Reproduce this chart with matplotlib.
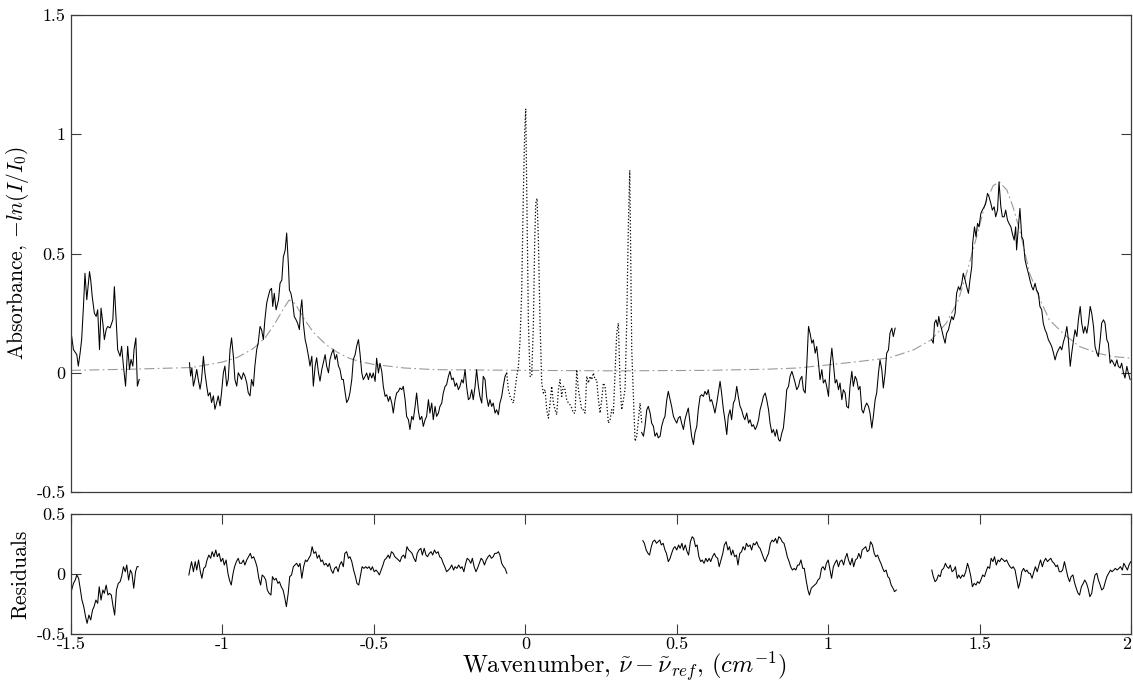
import matplotlib
matplotlib.use("Agg")
import matplotlib.pyplot as plt

# absorbance data as (wavenumber, absorbance)
abs_a = [(-1.498, 0.153), (-1.492, 0.097), (-1.481, 0.076), (-1.476, 0.028), (-1.470, 0.083), (-1.465, 0.139),
         (-1.459, 0.278), (-1.454, 0.417), (-1.448, 0.306), (-1.439, 0.424), (-1.435, 0.389), (-1.430, 0.319),
         (-1.423, 0.250), (-1.417, 0.236), (-1.412, 0.264), (-1.406, 0.097), (-1.401, 0.271), (-1.395, 0.208),
         (-1.390, 0.139), (-1.384, 0.181), (-1.379, 0.194), (-1.371, 0.188), (-1.362, 0.222), (-1.357, 0.361),
         (-1.351, 0.222), (-1.346, 0.097), (-1.338, 0.069), (-1.333, 0.111), (-1.327, 0.028), (-1.320, -0.056),
         (-1.313, 0.111), (-1.307, 0.014), (-1.302, 0.056), (-1.296, 0.028), (-1.292, 0.097), (-1.286, 0.146),
         (-1.281, -0.056), (-1.275, -0.028)]

abs_b = [(-1.109, 0.042), (-1.105, -0.014), (-1.101, 0.021), (-1.096, -0.056), (-1.091, -0.028), (-1.085, 0.014),
         (-1.080, -0.028), (-1.074, -0.069), (-1.069, -0.028), (-1.063, 0.069), (-1.058, 0.0), (-1.052, -0.056),
         (-1.047, -0.097), (-1.041, -0.083), (-1.036, -0.125), (-1.030, -0.097), (-1.025, -0.153), (-1.019, -0.125),
         (-1.014, -0.097), (-1.008, -0.139), (-1.003, -0.083), (-0.997, 0.0), (-0.992, 0.028), (-0.986, -0.056),
         (-0.981, -0.028), (-0.975, 0.097), (-0.970, 0.146), (-0.964, 0.069), (-0.959, -0.028), (-0.953, -0.056),
         (-0.948, 0.0), (-0.942, -0.014), (-0.937, -0.028), (-0.931, 0.0), (-0.926, -0.014), (-0.920, -0.042),
         (-0.915, -0.083), (-0.909, -0.097), (-0.904, -0.028), (-0.898, -0.056), (-0.893, 0.028), (-0.887, 0.097),
         (-0.882, 0.125), (-0.876, 0.194), (-0.871, 0.181), (-0.865, 0.139), (-0.860, 0.222), (-0.854, 0.292),
         (-0.849, 0.319), (-0.843, 0.347), (-0.838, 0.354), (-0.834, 0.278), (-0.829, 0.333), (-0.823, 0.264),
         (-0.815, 0.306), (-0.810, 0.375), (-0.804, 0.389), (-0.799, 0.486), (-0.793, 0.514), (-0.788, 0.586),
         (-0.782, 0.444), (-0.779, 0.347), (-0.774, 0.333), (-0.768, 0.292), (-0.763, 0.236), (-0.757, 0.222),
         (-0.752, 0.208), (-0.746, 0.181), (-0.742, 0.264), (-0.738, 0.306), (-0.733, 0.208), (-0.727, 0.139),
         (-0.722, 0.111), (-0.716, 0.069), (-0.711, 0.028), (-0.705, 0.069), (-0.700, -0.056), (-0.694, 0.028),
         (-0.689, 0.063), (-0.683, 0.0), (-0.678, -0.035), (-0.672, 0.014), (-0.667, 0.042), (-0.661, 0.076),
         (-0.656, 0.028), (-0.650, 0.0), (-0.645, 0.056), (-0.639, 0.083), (-0.634, 0.097), (-0.628, 0.056),
         (-0.623, 0.076), (-0.617, 0.028), (-0.612, 0.014), (-0.606, -0.028), (-0.601, -0.028), (-0.595, -0.083),
         (-0.590, -0.125), (-0.584, -0.111), (-0.579, -0.083), (-0.573, -0.028), (-0.568, 0.056), (-0.562, 0.076),
         (-0.557, 0.111), (-0.551, 0.139), (-0.546, 0.082), (-0.540, -0.001), (-0.535, -0.029), (-0.529, -0.015),
         (-0.524, -0.001), (-0.518, -0.029), (-0.513, -0.001), (-0.507, -0.022), (-0.502, -0.001), (-0.496, -0.036),
         (-0.491, 0.061), (-0.485, -0.001), (-0.480, 0.040), (-0.474, 0.006), (-0.469, -0.057), (-0.463, -0.099),
         (-0.458, -0.092), (-0.452, -0.120), (-0.447, -0.099), (-0.441, -0.127), (-0.436, -0.169), (-0.430, -0.113),
         (-0.425, -0.085), (-0.419, -0.078), (-0.414, -0.064), (-0.408, -0.071), (-0.403, -0.057), (-0.397, -0.113),
         (-0.392, -0.183), (-0.386, -0.197), (-0.381, -0.238), (-0.375, -0.183), (-0.370, -0.197), (-0.364, -0.141),
         (-0.359, -0.085), (-0.353, -0.162), (-0.348, -0.197), (-0.342, -0.183), (-0.337, -0.225), (-0.331, -0.197),
         (-0.326, -0.183), (-0.320, -0.113), (-0.315, -0.169), (-0.309, -0.127), (-0.304, -0.197), (-0.298, -0.141),
         (-0.293, -0.183), (-0.287, -0.169), (-0.282, -0.141), (-0.276, -0.127), (-0.271, -0.085), (-0.265, -0.057),
         (-0.260, -0.050), (-0.254, -0.015), (-0.249, 0.006), (-0.243, -0.029), (-0.238, -0.022), (-0.232, -0.057),
         (-0.227, -0.043), (-0.221, -0.071), (-0.216, -0.057), (-0.210, -0.029), (-0.205, -0.043), (-0.199, 0.013),
         (-0.194, -0.057), (-0.188, -0.113), (-0.183, -0.106), (-0.177, -0.071), (-0.172, -0.113), (-0.166, -0.057),
         (-0.161, 0.013), (-0.155, -0.057), (-0.150, -0.099), (-0.144, -0.127), (-0.139, -0.015), (-0.133, -0.029),
         (-0.128, -0.099), (-0.122, -0.141), (-0.117, -0.113), (-0.111, -0.141), (-0.106, -0.127), (-0.100, -0.169),
         (-0.095, -0.155), (-0.089, -0.176), (-0.084, -0.127), (-0.078, -0.099), (-0.073, -0.057), (-0.067, -0.015),
         (-0.0615, -0.001)]

# points left out of the fit (dotted)
abs_excl = [(-0.0615, -0.001), (-0.056, -0.071), (-0.0505, -0.099), (-0.045, -0.113), (-0.0395, -0.127),
            (-0.034, -0.071), (-0.0285, -0.015), (-0.023, 0.026), (-0.0174, 0.138), (-0.0119, 0.347),
            (-0.0064, 0.766), (-0.002, 1.017), (0.0013, 1.107), (0.0046, 0.766), (0.0101, 0.208), (0.0156, -0.015),
            (0.0211, -0.015), (0.0266, 0.208), (0.031, 0.556), (0.0343, 0.710), (0.0387, 0.731), (0.0431, 0.556),
            (0.0486, 0.208), (0.0541, -0.043), (0.0596, -0.085), (0.0651, -0.071), (0.0706, -0.155), (0.0761, -0.190),
            (0.0816, -0.127), (0.0871, -0.057), (0.0926, -0.127), (0.0981, -0.155), (0.1036, -0.176), (0.1091, -0.071),
            (0.1146, -0.029), (0.1201, -0.099), (0.1256, -0.057), (0.1311, -0.071), (0.1366, -0.113), (0.1421, -0.127),
            (0.1476, -0.134), (0.1532, -0.148), (0.1587, -0.169), (0.1642, -0.169), (0.1697, 0.013), (0.1752, -0.071),
            (0.1807, -0.113), (0.1862, -0.155), (0.1917, -0.155), (0.1972, -0.169), (0.2027, -0.015), (0.2082, -0.043),
            (0.2137, -0.015), (0.2192, -0.029), (0.2247, -0.001), (0.2302, -0.029), (0.2357, -0.029), (0.2412, -0.113),
            (0.2467, -0.169), (0.2522, -0.113), (0.2577, -0.043), (0.2632, -0.057), (0.2687, -0.127), (0.2742, -0.211),
            (0.2797, -0.197), (0.2852, -0.155), (0.2907, -0.169), (0.2962, -0.001), (0.3017, 0.166), (0.3072, 0.208),
            (0.3127, -0.043), (0.3182, -0.155), (0.3237, -0.113), (0.3292, -0.071), (0.3347, 0.208), (0.3403, 0.626),
            (0.3447, 0.849), (0.348, 0.487), (0.3513, 0.096), (0.3568, -0.099), (0.3623, -0.287), (0.3678, -0.266),
            (0.3733, -0.197), (0.3788, -0.127), (0.3843, -0.211)]

abs_c = [(0.384, -0.250), (0.390, -0.266), (0.395, -0.225), (0.401, -0.155), (0.406, -0.141), (0.412, -0.169),
         (0.417, -0.211), (0.423, -0.225), (0.428, -0.266), (0.434, -0.252), (0.439, -0.273), (0.445, -0.266),
         (0.450, -0.225), (0.456, -0.197), (0.461, -0.183), (0.467, -0.113), (0.472, -0.078), (0.478, -0.113),
         (0.483, -0.141), (0.489, -0.183), (0.494, -0.197), (0.500, -0.211), (0.505, -0.190), (0.511, -0.183),
         (0.516, -0.211), (0.522, -0.238), (0.527, -0.197), (0.533, -0.169), (0.538, -0.148), (0.544, -0.211),
         (0.549, -0.266), (0.555, -0.301), (0.560, -0.252), (0.566, -0.225), (0.571, -0.155), (0.577, -0.099),
         (0.582, -0.092), (0.588, -0.099), (0.593, -0.078), (0.599, -0.092), (0.604, -0.071), (0.610, -0.120),
         (0.615, -0.113), (0.621, -0.141), (0.626, -0.169), (0.632, -0.127), (0.637, -0.085), (0.643, -0.036),
         (0.648, -0.085), (0.654, -0.155), (0.659, -0.197), (0.665, -0.259), (0.670, -0.183), (0.676, -0.155),
         (0.681, -0.197), (0.687, -0.127), (0.692, -0.113), (0.698, -0.057), (0.703, -0.099), (0.709, -0.141),
         (0.714, -0.155), (0.720, -0.183), (0.725, -0.197), (0.731, -0.169), (0.737, -0.211), (0.742, -0.197),
         (0.748, -0.225), (0.753, -0.218), (0.759, -0.238), (0.764, -0.225), (0.770, -0.197), (0.775, -0.155),
         (0.781, -0.127), (0.786, -0.099), (0.792, -0.085), (0.797, -0.113), (0.803, -0.155), (0.808, -0.211),
         (0.814, -0.252), (0.819, -0.238), (0.825, -0.266), (0.830, -0.238), (0.836, -0.280), (0.841, -0.287),
         (0.847, -0.252), (0.852, -0.232), (0.858, -0.155), (0.863, -0.071), (0.869, -0.057), (0.874, -0.015),
         (0.880, 0.006), (0.885, -0.015), (0.891, -0.043), (0.896, -0.071), (0.902, -0.057), (0.907, -0.029),
         (0.913, -0.015), (0.918, -0.071), (0.924, -0.085), (0.929, 0.026), (0.935, 0.194), (0.940, 0.166),
         (0.946, 0.124), (0.951, 0.138), (0.957, 0.082), (0.962, 0.110), (0.968, 0.040), (0.973, -0.029),
         (0.979, 0.013), (0.984, -0.043), (0.990, -0.029), (0.995, -0.057), (1.001, -0.099), (1.006, 0.026),
         (1.012, 0.103), (1.017, 0.040), (1.023, -0.043), (1.028, -0.029), (1.034, -0.071), (1.039, -0.043),
         (1.045, -0.113), (1.050, -0.071), (1.056, -0.085), (1.061, -0.141), (1.067, -0.148), (1.072, -0.057),
         (1.078, 0.006), (1.083, -0.057), (1.089, -0.015), (1.094, -0.029), (1.100, -0.071), (1.105, -0.057),
         (1.111, -0.155), (1.116, -0.169), (1.122, -0.141), (1.127, -0.127), (1.133, -0.141), (1.138, -0.169),
         (1.144, -0.232), (1.149, -0.183), (1.155, -0.113), (1.160, -0.085), (1.166, -0.001), (1.171, 0.054),
         (1.177, 0.013), (1.182, -0.064), (1.188, -0.001), (1.193, 0.082), (1.199, 0.096), (1.204, 0.166),
         (1.210, 0.187), (1.215, 0.152), (1.221, 0.187)]

abs_d = [(1.342, 0.138), (1.347, 0.124), (1.351, 0.208), (1.356, 0.222), (1.361, 0.194), (1.365, 0.236),
         (1.369, 0.208), (1.375, 0.180), (1.380, 0.152), (1.386, 0.124), (1.391, 0.166), (1.397, 0.180),
         (1.402, 0.208), (1.408, 0.236), (1.413, 0.222), (1.419, 0.250), (1.424, 0.333), (1.430, 0.361),
         (1.435, 0.347), (1.441, 0.375), (1.446, 0.417), (1.452, 0.389), (1.457, 0.361), (1.463, 0.333),
         (1.468, 0.389), (1.474, 0.445), (1.477, 0.543), (1.483, 0.612), (1.488, 0.570), (1.493, 0.626),
         (1.498, 0.612), (1.504, 0.668), (1.509, 0.682), (1.515, 0.696), (1.520, 0.710), (1.526, 0.752),
         (1.531, 0.738), (1.537, 0.710), (1.542, 0.682), (1.548, 0.696), (1.553, 0.654), (1.559, 0.682),
         (1.564, 0.800), (1.570, 0.696), (1.575, 0.654), (1.581, 0.654), (1.586, 0.682), (1.592, 0.640),
         (1.597, 0.626), (1.603, 0.612), (1.608, 0.584), (1.614, 0.556), (1.619, 0.612), (1.622, 0.515),
         (1.628, 0.612), (1.633, 0.689), (1.639, 0.570), (1.644, 0.556), (1.650, 0.473), (1.655, 0.445),
         (1.661, 0.417), (1.666, 0.389), (1.672, 0.361), (1.677, 0.347), (1.683, 0.375), (1.688, 0.347),
         (1.694, 0.333), (1.699, 0.278), (1.705, 0.264), (1.710, 0.208), (1.716, 0.180), (1.721, 0.166),
         (1.727, 0.138), (1.733, 0.124), (1.738, 0.110), (1.744, 0.082), (1.749, 0.054), (1.755, 0.082),
         (1.760, 0.096), (1.766, 0.110), (1.771, 0.096), (1.777, 0.131), (1.782, 0.152), (1.788, 0.194),
         (1.793, 0.138), (1.799, 0.027), (1.804, 0.082), (1.810, 0.138), (1.815, 0.180), (1.821, 0.152),
         (1.826, 0.222), (1.832, 0.278), (1.837, 0.208), (1.843, 0.166), (1.848, 0.194), (1.854, 0.166),
         (1.859, 0.208), (1.865, 0.278), (1.870, 0.250), (1.876, 0.194), (1.881, 0.110), (1.887, 0.082),
         (1.892, 0.068), (1.898, 0.138), (1.903, 0.208), (1.909, 0.222), (1.914, 0.208), (1.920, 0.138),
         (1.925, 0.124), (1.931, 0.040), (1.936, 0.054), (1.942, 0.040), (1.947, 0.027), (1.953, 0.054),
         (1.958, 0.027), (1.964, 0.020), (1.969, 0.040), (1.975, -0.001), (1.980, -0.022), (1.986, 0.027),
         (1.991, -0.001), (1.997, -0.029)]

# fitted profile (dash-dot)
fit_curve = [(-1.5, 0.010), (-1.3, 0.015), (-1.1, 0.022), (-1.0, 0.045), (-0.95, 0.065), (-0.9, 0.100),
             (-0.86, 0.145), (-0.83, 0.200), (-0.80, 0.265), (-0.78, 0.305), (-0.76, 0.290), (-0.73, 0.225),
             (-0.70, 0.170), (-0.66, 0.120), (-0.62, 0.085), (-0.58, 0.060), (-0.54, 0.045), (-0.50, 0.035),
             (-0.40, 0.020), (-0.30, 0.013), (0.0, 0.010), (0.3, 0.008), (0.6, 0.010), (0.8, 0.015), (0.9, 0.020),
             (1.0, 0.033), (1.1, 0.047), (1.2, 0.062), (1.28, 0.095), (1.34, 0.138), (1.39, 0.208), (1.43, 0.305),
             (1.46, 0.431), (1.49, 0.570), (1.52, 0.715), (1.545, 0.785), (1.565, 0.800), (1.59, 0.766),
             (1.61, 0.696), (1.635, 0.584), (1.665, 0.417), (1.70, 0.305), (1.73, 0.222), (1.78, 0.160),
             (1.83, 0.110), (1.89, 0.082), (1.94, 0.068), (2.0, 0.061)]

# residuals
res_a = [(-1.498, -0.133), (-1.492, -0.078), (-1.486, -0.050), (-1.481, -0.008), (-1.475, -0.036), (-1.469, -0.133),
         (-1.464, -0.217), (-1.458, -0.272), (-1.452, -0.356), (-1.447, -0.411), (-1.441, -0.342), (-1.435, -0.383),
         (-1.429, -0.300), (-1.424, -0.272), (-1.418, -0.217), (-1.412, -0.244), (-1.407, -0.106), (-1.401, -0.217),
         (-1.395, -0.133), (-1.390, -0.161), (-1.384, -0.092), (-1.378, -0.175), (-1.373, -0.161), (-1.367, -0.175),
         (-1.361, -0.272), (-1.356, -0.342), (-1.350, -0.133), (-1.344, -0.078), (-1.338, -0.064), (-1.333, -0.022),
         (-1.327, 0.061), (-1.321, 0.019), (-1.316, 0.075), (-1.310, -0.050), (-1.304, 0.033), (-1.299, 0.006),
         (-1.293, -0.119), (-1.287, 0.019), (-1.282, 0.061), (-1.278, 0.061)]

res_b = [(-1.111, -0.008), (-1.108, 0.033), (-1.102, 0.103), (-1.096, 0.019), (-1.090, 0.103), (-1.085, 0.033),
         (-1.079, 0.117), (-1.073, 0.019), (-1.068, -0.036), (-1.062, 0.047), (-1.056, 0.061), (-1.051, 0.117),
         (-1.045, 0.158), (-1.039, 0.131), (-1.034, 0.186), (-1.028, 0.144), (-1.022, 0.200), (-1.017, 0.144),
         (-1.011, 0.172), (-1.005, 0.103), (-0.999, 0.131), (-0.994, 0.075), (-0.988, 0.117), (-0.982, 0.006),
         (-0.977, -0.050), (-0.971, -0.092), (-0.965, 0.006), (-0.960, 0.061), (-0.954, 0.103), (-0.948, 0.131),
         (-0.943, 0.089), (-0.937, 0.089), (-0.931, 0.117), (-0.926, 0.075), (-0.920, 0.117), (-0.914, 0.144),
         (-0.908, 0.172), (-0.903, 0.131), (-0.897, 0.144), (-0.891, 0.103), (-0.886, 0.061), (-0.880, -0.036),
         (-0.874, -0.092), (-0.869, -0.008), (-0.863, -0.022), (-0.857, -0.050), (-0.852, -0.133), (-0.846, -0.161),
         (-0.840, -0.175), (-0.835, -0.022), (-0.829, -0.050), (-0.823, -0.036), (-0.817, -0.078), (-0.812, -0.064),
         (-0.806, -0.106), (-0.800, -0.133), (-0.795, -0.189), (-0.789, -0.272), (-0.783, -0.161), (-0.778, -0.022),
         (-0.772, -0.008), (-0.766, 0.061), (-0.761, 0.075), (-0.755, 0.089), (-0.749, 0.061), (-0.744, 0.089),
         (-0.738, -0.036), (-0.732, 0.061), (-0.726, 0.117), (-0.721, 0.103), (-0.715, 0.131), (-0.709, 0.158),
         (-0.704, 0.228), (-0.698, 0.172), (-0.692, 0.186), (-0.687, 0.131), (-0.681, 0.158), (-0.675, 0.103),
         (-0.670, 0.117), (-0.664, 0.075), (-0.658, 0.089), (-0.652, 0.061), (-0.647, 0.089), (-0.641, 0.033),
         (-0.635, 0.006), (-0.630, 0.047), (-0.624, 0.061), (-0.618, 0.019), (-0.613, 0.075), (-0.607, 0.103),
         (-0.601, 0.061), (-0.596, 0.172), (-0.590, 0.186), (-0.584, 0.131), (-0.579, 0.144), (-0.573, 0.103),
         (-0.567, 0.033), (-0.561, -0.022), (-0.556, -0.078), (-0.550, -0.092), (-0.544, -0.008), (-0.539, 0.061),
         (-0.533, 0.047), (-0.527, 0.061), (-0.522, 0.047), (-0.516, 0.061), (-0.510, 0.033), (-0.505, 0.061),
         (-0.499, 0.019), (-0.493, 0.033), (-0.488, 0.019), (-0.482, -0.008), (-0.476, 0.033), (-0.470, 0.075),
         (-0.465, 0.117), (-0.459, 0.131), (-0.453, 0.158), (-0.448, 0.131), (-0.442, 0.186), (-0.436, 0.172),
         (-0.431, 0.144), (-0.425, 0.131), (-0.419, 0.117), (-0.414, 0.103), (-0.408, 0.144), (-0.402, 0.158),
         (-0.397, 0.131), (-0.391, 0.228), (-0.385, 0.200), (-0.379, 0.186), (-0.374, 0.172), (-0.368, 0.131),
         (-0.362, 0.103), (-0.357, 0.172), (-0.351, 0.200), (-0.345, 0.214), (-0.340, 0.158), (-0.334, 0.214),
         (-0.328, 0.158), (-0.323, 0.144), (-0.317, 0.172), (-0.311, 0.186), (-0.306, 0.158), (-0.300, 0.200),
         (-0.294, 0.172), (-0.288, 0.186), (-0.283, 0.144), (-0.277, 0.131), (-0.271, 0.089), (-0.266, 0.061),
         (-0.260, 0.019), (-0.254, 0.033), (-0.249, 0.047), (-0.243, 0.075), (-0.237, 0.033), (-0.232, 0.061),
         (-0.226, 0.047), (-0.220, 0.075), (-0.214, 0.047), (-0.209, 0.061), (-0.203, 0.019), (-0.197, 0.089),
         (-0.192, 0.131), (-0.186, 0.117), (-0.180, 0.089), (-0.175, 0.131), (-0.169, 0.061), (-0.163, 0.019),
         (-0.158, 0.047), (-0.152, 0.089), (-0.146, 0.131), (-0.141, 0.117), (-0.135, 0.075), (-0.129, 0.117),
         (-0.123, 0.144), (-0.118, 0.158), (-0.112, 0.131), (-0.106, 0.144), (-0.101, 0.172), (-0.095, 0.172),
         (-0.089, 0.186), (-0.084, 0.158), (-0.078, 0.089), (-0.072, 0.061), (-0.067, 0.047), (-0.061, 0.006)]

res_c = [(0.388, 0.278), (0.393, 0.256), (0.399, 0.200), (0.405, 0.172), (0.410, 0.158), (0.416, 0.228),
         (0.421, 0.269), (0.427, 0.283), (0.433, 0.256), (0.438, 0.269), (0.444, 0.283), (0.449, 0.242),
         (0.455, 0.256), (0.461, 0.200), (0.466, 0.172), (0.472, 0.103), (0.478, 0.131), (0.483, 0.172),
         (0.489, 0.214), (0.494, 0.228), (0.500, 0.200), (0.506, 0.242), (0.511, 0.214), (0.517, 0.256),
         (0.522, 0.200), (0.528, 0.242), (0.534, 0.186), (0.539, 0.158), (0.545, 0.269), (0.551, 0.311),
         (0.556, 0.297), (0.562, 0.228), (0.567, 0.242), (0.573, 0.144), (0.579, 0.103), (0.584, 0.117),
         (0.590, 0.089), (0.596, 0.131), (0.601, 0.103), (0.607, 0.131), (0.612, 0.103), (0.618, 0.144),
         (0.624, 0.172), (0.629, 0.144), (0.635, 0.131), (0.640, 0.061), (0.646, 0.117), (0.652, 0.172),
         (0.657, 0.242), (0.663, 0.269), (0.669, 0.200), (0.674, 0.228), (0.680, 0.158), (0.685, 0.200),
         (0.691, 0.144), (0.697, 0.158), (0.702, 0.075), (0.708, 0.172), (0.714, 0.186), (0.719, 0.228),
         (0.725, 0.200), (0.730, 0.256), (0.736, 0.228), (0.742, 0.242), (0.747, 0.200), (0.753, 0.256),
         (0.758, 0.242), (0.764, 0.269), (0.770, 0.228), (0.775, 0.214), (0.781, 0.172), (0.787, 0.131),
         (0.792, 0.103), (0.798, 0.144), (0.803, 0.172), (0.809, 0.256), (0.815, 0.283), (0.820, 0.269),
         (0.826, 0.297), (0.831, 0.256), (0.837, 0.311), (0.843, 0.297), (0.848, 0.269), (0.854, 0.256),
         (0.860, 0.200), (0.865, 0.144), (0.871, 0.103), (0.876, 0.061), (0.882, 0.033), (0.888, 0.047),
         (0.893, 0.033), (0.899, 0.075), (0.904, 0.075), (0.910, 0.117), (0.916, 0.047), (0.921, 0.047),
         (0.927, -0.050), (0.933, -0.133), (0.938, -0.175), (0.944, -0.119), (0.949, -0.106), (0.955, -0.092),
         (0.961, -0.078), (0.966, -0.050), (0.972, -0.036), (0.978, 0.047), (0.983, 0.061), (0.989, 0.033),
         (0.994, 0.089), (1.000, 0.117), (1.006, 0.033), (1.011, -0.036), (1.017, 0.061), (1.022, 0.089),
         (1.028, 0.117), (1.034, 0.061), (1.039, 0.103), (1.045, 0.117), (1.051, 0.075), (1.056, 0.131),
         (1.062, 0.172), (1.067, 0.117), (1.073, 0.075), (1.079, 0.131), (1.084, 0.061), (1.090, 0.117),
         (1.096, 0.131), (1.101, 0.172), (1.107, 0.131), (1.112, 0.200), (1.118, 0.214), (1.124, 0.228),
         (1.129, 0.186), (1.135, 0.200), (1.140, 0.269), (1.146, 0.242), (1.152, 0.172), (1.157, 0.144),
         (1.163, 0.158), (1.169, 0.117), (1.174, 0.089), (1.180, 0.047), (1.185, 0.019), (1.191, 0.033),
         (1.197, -0.022), (1.202, -0.036), (1.208, -0.092), (1.214, -0.119), (1.219, -0.147), (1.225, -0.133)]

res_d = [(1.342, 0.033), (1.347, -0.022), (1.353, -0.064), (1.358, -0.050), (1.364, -0.008), (1.370, -0.022),
         (1.375, 0.033), (1.381, 0.047), (1.387, 0.089), (1.392, 0.061), (1.398, 0.047), (1.403, 0.075),
         (1.409, 0.019), (1.415, 0.033), (1.420, 0.061), (1.426, -0.036), (1.431, -0.008), (1.437, -0.036),
         (1.443, -0.008), (1.448, -0.022), (1.454, 0.019), (1.460, 0.089), (1.465, 0.047), (1.471, -0.022),
         (1.476, -0.106), (1.482, -0.078), (1.488, -0.092), (1.493, -0.064), (1.499, -0.078), (1.504, -0.050),
         (1.510, -0.008), (1.516, -0.022), (1.521, 0.019), (1.527, 0.061), (1.533, 0.047), (1.538, 0.131),
         (1.544, 0.103), (1.549, 0.144), (1.555, 0.075), (1.561, 0.117), (1.566, 0.103), (1.572, 0.131),
         (1.578, 0.117), (1.583, 0.103), (1.589, 0.117), (1.594, 0.089), (1.600, 0.061), (1.606, 0.047),
         (1.611, 0.061), (1.617, 0.033), (1.622, -0.036), (1.628, -0.119), (1.634, -0.064), (1.639, 0.019),
         (1.645, 0.047), (1.651, 0.019), (1.656, 0.033), (1.662, 0.006), (1.667, 0.006), (1.673, -0.036),
         (1.679, 0.019), (1.684, 0.061), (1.690, 0.019), (1.696, 0.075), (1.701, 0.117), (1.707, 0.061),
         (1.712, 0.103), (1.718, 0.131), (1.724, 0.103), (1.729, 0.117), (1.735, 0.131), (1.740, 0.103),
         (1.746, 0.089), (1.752, 0.061), (1.757, 0.075), (1.763, 0.019), (1.769, 0.019), (1.774, 0.033),
         (1.780, 0.103), (1.785, 0.047), (1.791, -0.022), (1.797, -0.064), (1.802, -0.022), (1.808, -0.008),
         (1.814, -0.078), (1.819, -0.119), (1.825, -0.161), (1.830, -0.175), (1.836, -0.106), (1.842, -0.078),
         (1.847, -0.050), (1.853, -0.078), (1.858, -0.119), (1.864, -0.189), (1.870, -0.161), (1.875, -0.078),
         (1.881, -0.008), (1.887, 0.006), (1.892, -0.050), (1.898, -0.092), (1.903, -0.133), (1.909, -0.119),
         (1.915, -0.064), (1.920, -0.022), (1.926, 0.006), (1.932, 0.033), (1.937, 0.019), (1.943, 0.033),
         (1.948, 0.047), (1.954, 0.033), (1.960, 0.047), (1.965, 0.061), (1.971, 0.033), (1.976, 0.089),
         (1.982, 0.061), (1.988, 0.033), (1.993, 0.075), (1.999, 0.103)]

x_ticks = [-1.5, -1, -0.5, 0, 0.5, 1, 1.5, 2]
x_tick_labels = ["-1.5", "-1", "-0.5", "0", "0.5", "1", "1.5", "2"]
abs_ticks = [-0.5, 0, 0.5, 1, 1.5]
abs_tick_labels = ["-0.5", "0", "0.5", "1", "1.5"]
res_ticks = [-0.5, 0, 0.5]
res_tick_labels = ["-0.5", "0", "0.5"]

plt.rcParams["font.family"] = "serif"
plt.rcParams["font.serif"] = ["cmr10"]
plt.rcParams["mathtext.fontset"] = "cm"
plt.rcParams["axes.unicode_minus"] = False

SPINE = "#3c3c3c"


def style_axes(ax):
    for s in ax.spines.values():
        s.set_color(SPINE)
        s.set_linewidth(0.9)
    ax.tick_params(direction="in", length=7, width=0.8, color=SPINE, labelsize=13, pad=4)


def xy(pairs):
    return [p[0] for p in pairs], [p[1] for p in pairs]


def plot_absorbance(ax):
    fx, fy = xy(fit_curve)
    fit_line, = ax.plot(fx, fy, color="#999999", lw=0.8)
    fit_line.set_dashes([9, 3, 1.5, 3])
    for seg in (abs_a, abs_b, abs_c, abs_d):
        sx, sy = xy(seg)
        ax.plot(sx, sy, color="black", lw=0.75)
    ex, ey = xy(abs_excl)
    ax.plot(ex, ey, color="black", lw=0.9, linestyle=":")
    ax.set_xlim(-1.5, 2)
    ax.set_ylim(-0.5, 1.5)
    style_axes(ax)
    ax.tick_params(axis="x", bottom=False, top=False, labelbottom=False)
    ax.tick_params(axis="y", left=True, right=True)
    ax.set_yticks(abs_ticks)
    ax.set_yticklabels(abs_tick_labels)
    ax.set_ylabel(r"Absorbance, $-ln(I/I_0)$", fontsize=15.5)
    ax.yaxis.set_label_coords(-0.038, 0.5)


def plot_residuals(ax):
    for seg in (res_a, res_b, res_c, res_d):
        sx, sy = xy(seg)
        ax.plot(sx, sy, color="black", lw=0.75)
    ax.set_xlim(-1.5, 2)
    ax.set_ylim(-0.5, 0.5)
    style_axes(ax)
    ax.tick_params(axis="x", bottom=True, top=True, pad=2)
    ax.tick_params(axis="y", left=True, right=True)
    ax.set_xticks(x_ticks)
    ax.set_xticklabels(x_tick_labels)
    # last label would stick out past the figure edge
    ax.get_xticklabels()[-1].set_ha("right")
    ax.set_yticks(res_ticks)
    ax.set_yticklabels(res_tick_labels)
    ax.set_ylabel("Residuals", fontsize=15.5)
    ax.yaxis.set_label_coords(-0.038, 0.5)
    ax.set_xlabel(r"Wavenumber, $\tilde{\nu}-\tilde{\nu}_{ref}$, $(cm^{-1})$", fontsize=17.5)
    ax.xaxis.set_label_coords(0.522, -0.275)
    ax.xaxis.label.set_va("center")


def main():
    fig = plt.figure(figsize=(11.33, 6.86), dpi=100)
    ax_abs = fig.add_axes([0.0627, 0.2828, 0.9356, 0.6953])
    ax_res = fig.add_axes([0.0627, 0.0758, 0.9356, 0.1749])
    plot_absorbance(ax_abs)
    plot_residuals(ax_res)
    fig.savefig("out.png", dpi=100)


if __name__ == "__main__":
    main()
